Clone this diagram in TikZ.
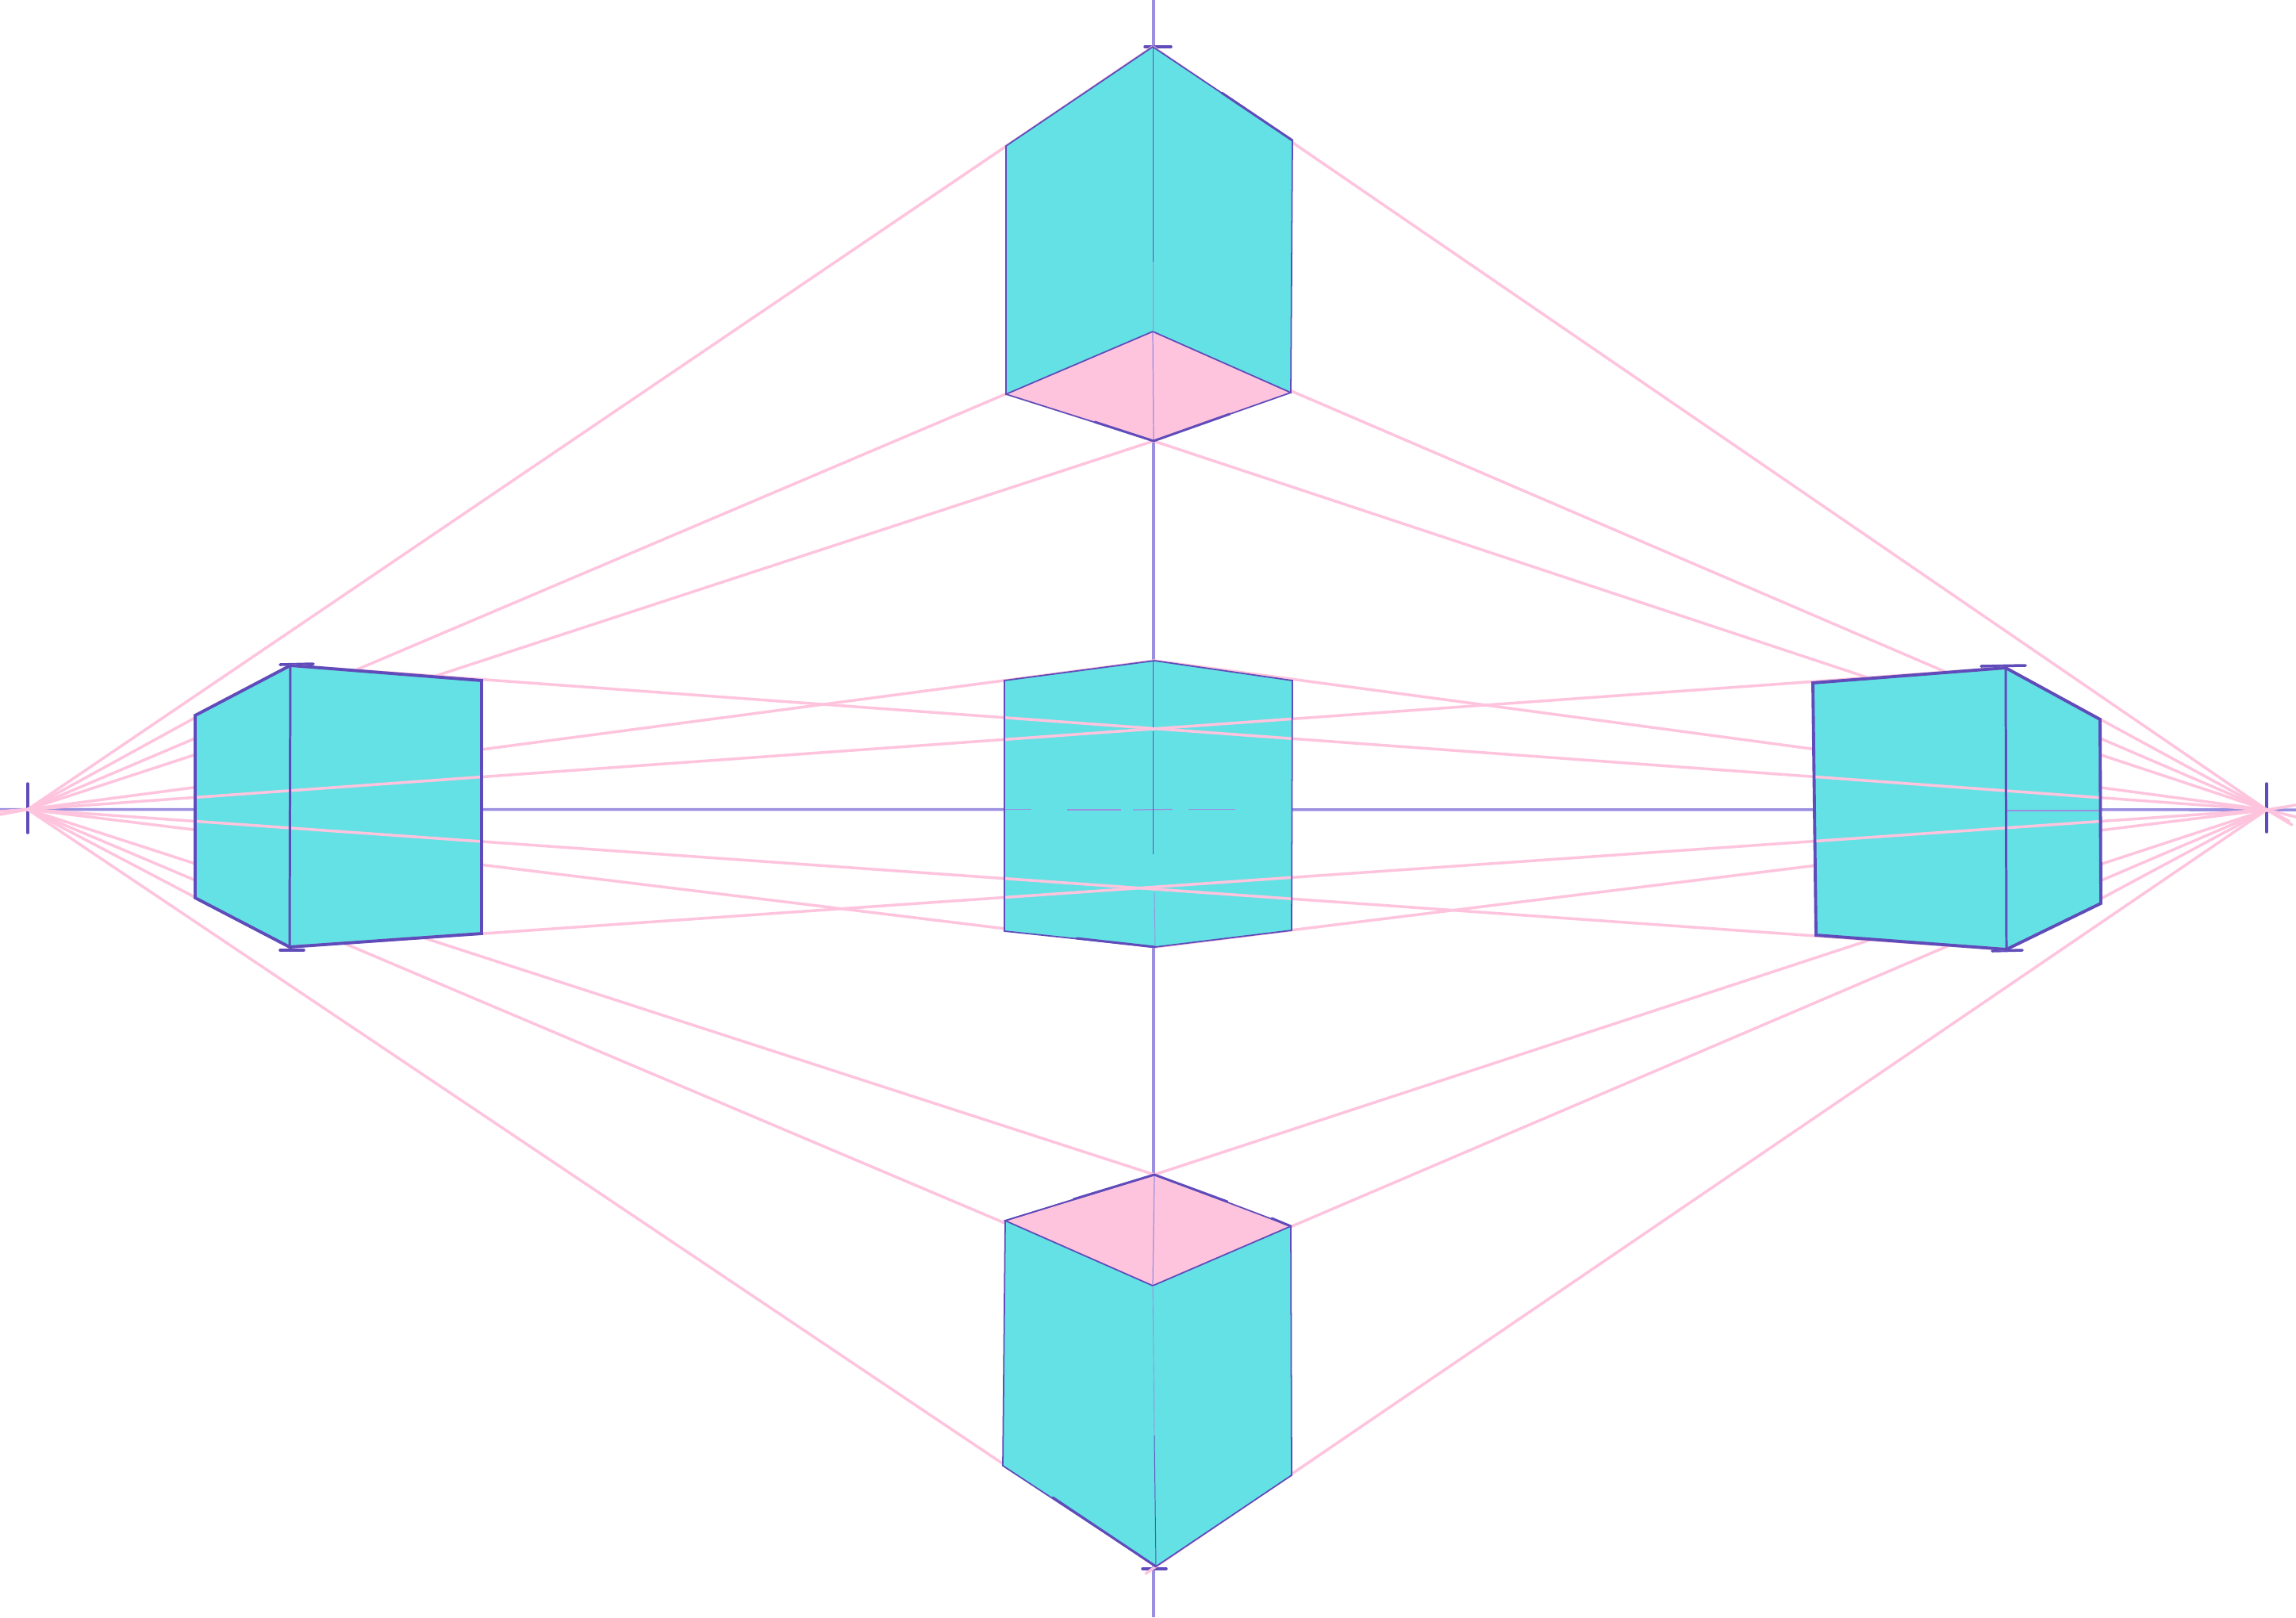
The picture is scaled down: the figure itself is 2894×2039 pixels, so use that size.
\documentclass[tikz,border=0pt]{standalone}
\definecolor{cyanface}{RGB}{100,225,228}
\definecolor{pinkface}{RGB}{254,196,222}
\definecolor{edgeviolet}{RGB}{95,75,185}
\definecolor{guideviolet}{RGB}{155,143,224}
\tikzset{
  px/.style={x=0.01cm,y=-0.01cm},
  pinkline/.style={draw=pinkface,line width=1pt,line cap=round},
  guide/.style={draw=guideviolet,line width=1pt},
  thinguide/.style={draw=guideviolet,line width=0.35pt},
  cubeface/.style={fill=cyanface,draw=none},
  capface/.style={fill=pinkface,draw=none},
  edgethin/.style={draw=edgeviolet,line width=0.5pt,line join=miter},
  edgehair/.style={draw=edgeviolet,line width=0.28pt},
  edgemid/.style={draw=edgeviolet,line width=0.85pt,line cap=round},
  edgethick/.style={draw=edgeviolet,line width=1.1pt,line join=miter,line cap=round},
  tick/.style={draw=edgeviolet,line width=1pt,line cap=round},
}
\begin{document}
\begin{tikzpicture}[px]
\useasboundingbox (0,0) rectangle (2894,2039);
\clip (0,0) rectangle (2894,2039);
% vanishing points
\coordinate (VL) at (35,1020.5);
\coordinate (VR) at (2857,1021);
% top cube
\coordinate (Ta) at (1453,59);
\coordinate (Tl) at (1268,184);
\coordinate (Tr) at (1629,177);
\coordinate (Ti) at (1453,418);
\coordinate (Tb) at (1268,497);
\coordinate (Tc) at (1627,495);
\coordinate (Tt) at (1454,556);
% centre cube
\coordinate (Cl) at (1266,858);
\coordinate (Ca) at (1455,833);
\coordinate (Cr) at (1629,858);
\coordinate (Cc) at (1628,1173);
\coordinate (Cz) at (1456,1194);
\coordinate (Cb) at (1266,1174);
% bottom cube
\coordinate (Ba) at (1455,1481);
\coordinate (Bl) at (1267,1539);
\coordinate (Br) at (1627,1546);
\coordinate (Bi) at (1453,1621);
\coordinate (Bb) at (1264,1848);
\coordinate (Bc) at (1628,1860);
\coordinate (Bz) at (1457,1975);
% left cube
\coordinate (La) at (366,839);
\coordinate (Lf) at (246,902);
\coordinate (Lg) at (246,1132);
\coordinate (Lz) at (365,1194);
\coordinate (Lr) at (607,858);
\coordinate (Ls) at (607,1177);
% right cube
\coordinate (Rl) at (2285,861);
\coordinate (Ra) at (2528,842);
\coordinate (Rf) at (2647,907);
\coordinate (Rg) at (2648,1139);
\coordinate (Rz) at (2529,1197);
\coordinate (Rb) at (2289,1179);
% free ends
\coordinate (H0) at (0,1020.5);
\coordinate (H1) at (2894,1021);
\coordinate (V0) at (1454,0);
\coordinate (V1) at (1454,2039);

% guides
\draw[guide] (H0) -- (H1);
\draw[guide] (V0) -- (V1);

% vanishing point and corner ticks
\draw[tick] (35,988) -- (35,1050);
\draw[tick] (2857,988) -- (2857,1049);
\draw[tick] (1443,59) -- (1476,59);
\draw[tick] (1440,1978) -- (1470,1978);
\draw[tick] (353,838) -- (395,837);
\draw[tick] (353,1198) -- (383,1198);
\draw[tick] (2497,840) -- (2553,839);
\draw[tick] (2511,1199) -- (2549,1198);

% perspective lines behind the cubes
\foreach \p in {Ta,Ti,Tt,Ca,Cz,Ba,Bi,Bz,La,Lz}
  \draw[pinkline] (VL) -- (\p);
\foreach \p in {Ta,Ti,Tt,Ca,Cz,Ba,Bi,Bz,Ra,Rz}
  \draw[pinkline] (VR) -- (\p);
% overshoots past the vanishing points
\draw[pinkline] (VL) -- (0,1027);
\draw[pinkline] (VL) -- (0,1023);
\draw[pinkline] (VR) -- (2889,1040);
\draw[pinkline] (VR) -- (2885,1035);
\draw[pinkline] (VR) -- (2894,1015);
\draw[pinkline] (VR) -- (2894,1030);
\draw[pinkline] (Bz) -- (1444,1984);

% faces
\fill[cubeface] (Ta) -- (Tr) -- (Tc) -- (Ti) -- (Tb) -- (Tl) -- cycle;
\fill[capface] (Ti) -- (Tc) -- (Tt) -- (Tb) -- cycle;
\fill[cubeface] (Ca) -- (Cr) -- (Cc) -- (Cz) -- (Cb) -- (Cl) -- cycle;
\fill[capface] (Ba) -- (Br) -- (Bi) -- (Bl) -- cycle;
\fill[cubeface] (Bl) -- (Bi) -- (Br) -- (Bc) -- (Bz) -- (Bb) -- cycle;
\fill[cubeface] (La) -- (Lr) -- (Ls) -- (Lz) -- (Lg) -- (Lf) -- cycle;
\fill[cubeface] (Rl) -- (Ra) -- (Rf) -- (Rg) -- (Rz) -- (Rb) -- cycle;

% thin guides seen on the faces
\draw[thinguide] (Ti) -- (Tt);
\draw[thinguide] (Ba) -- (Bi);
\draw[thinguide] (1266,1020.5) -- (1300,1020.5);
\draw[thinguide] (1345,1021) -- (1413,1021);
\draw[thinguide] (1428,1021) -- (1478,1020.5);
\draw[thinguide] (1498,1020.5) -- (1557,1020.5);
\draw[thinguide] (2529,1022) -- (2647,1022);

% perspective lines crossing the faces
\draw[pinkline] (VL) -- (Ra);
\draw[pinkline] (VL) -- (Rz);
\draw[pinkline] (VR) -- (La);
\draw[pinkline] (VR) -- (Lz);

% cube edges: top
\draw[edgethin] (Ta) -- (Tr) -- (Tc) -- (Ti) -- (Tb) -- (Tl) -- cycle;
\draw[edgethin] (Tb) -- (Tt) -- (Tc);
\draw[edgehair] (Ta) -- (1453,330);
\draw[draw=guideviolet,line width=0.25pt] (1453,330) -- (Ti);
\draw[edgemid] (1540,117) -- (Tr);
\draw[edgemid] (1380,532) -- (Tt) -- (1550,522);
% cube edges: centre
\draw[edgethin] (Ca) -- (Cr) -- (Cc) -- (Cz) -- (Cb) -- (Cl) -- cycle;
\draw[edgehair] (1453,833) -- (1453,917);
\draw[edgehair] (1453,922) -- (1453,1077);
\draw[draw=guideviolet,line width=0.25pt] (1455,1125) -- (Cz);
\draw[edgemid] (1357,1183) -- (Cz);
% cube edges: bottom
\draw[edgethin] (Ba) -- (Br) -- (Bc) -- (Bz) -- (Bb) -- (Bl) -- cycle;
\draw[edgethin] (Ba) -- (Bl) -- (Bi) -- (Br);
\draw[draw=guideviolet,line width=0.25pt] (Bi) -- (1455,1810);
\draw[edgehair] (1455,1810) -- (Bz);
\draw[edgemid] (1353,1512) -- (Ba) -- (1547,1515);
\draw[edgemid] (1603,1536) -- (Br);
\draw[edgemid] (1327,1888) -- (Bz);
% cube edges: sides
\draw[edgethick] (La) -- (Lr) -- (Ls) -- (Lz) -- (Lg) -- (Lf) -- cycle;
\draw[edgemid] (La) -- (Lz);
\draw[edgethick] (Rl) -- (Ra) -- (Rf) -- (Rg) -- (Rz) -- (Rb) -- cycle;
\draw[edgemid] (Ra) -- (Rz);
\end{tikzpicture}
\end{document}
